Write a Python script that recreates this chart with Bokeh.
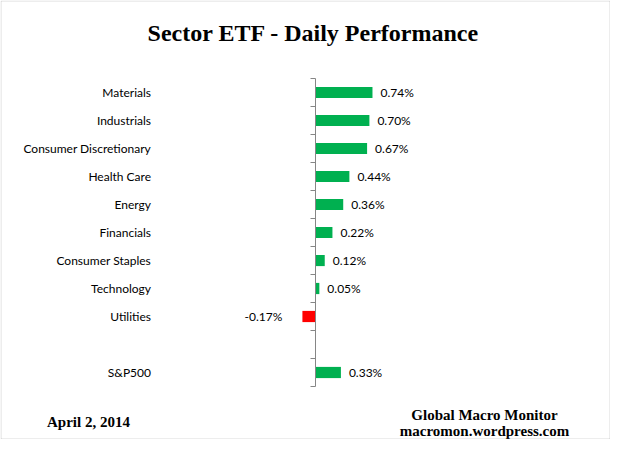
from bokeh.plotting import figure
from bokeh.models import Range1d, Label, BoxAnnotation, ColumnDataSource
from bokeh.core.properties import value
from bokeh.embed import file_html
from bokeh.resources import INLINE

# ---- data ----
categories = ["Materials", "Industrials", "Consumer Discretionary", "Health Care",
              "Energy", "Financials", "Consumer Staples", "Technology", "Utilities",
              "", "S&P500"]
bar_categories = ["Materials", "Industrials", "Consumer Discretionary", "Health Care",
                  "Energy", "Financials", "Consumer Staples", "Technology", "Utilities",
                  "S&P500"]
bar_values = [0.74, 0.70, 0.67, 0.44, 0.36, 0.22, 0.12, 0.05, -0.17, 0.33]
title_text = "Sector ETF - Daily Performance"
date_text = "April 2, 2014"
credit_lines = ["Global Macro Monitor", "macromon.wordpress.com"]

GREEN = "#00B050"
RED = "#FF0000"
GRAY = "#868686"

W, H = 610, 439
ZERO_X = 315.0      # pixel of value 0
PX_PER = 77.0       # pixels per 1 %
ROW0_Y = 92.0       # pixel centre of first row
ROW_H = 28.0        # pixels per row


def sx(px):
    return (px - ZERO_X) / PX_PER


def sy(py):
    return (py - ROW0_Y) / ROW_H


p = figure(width=W, height=H, min_border=0,
           x_range=Range1d(sx(0), sx(W)),
           y_range=Range1d(sy(H), sy(0)),
           output_backend="svg", toolbar_location=None, tools="")
p.outline_line_color = None
p.background_fill_color = "white"
p.border_fill_color = "white"
p.grid.visible = False
p.axis.visible = False

row_of = {c: i for i, c in enumerate(categories)}

# category labels
lsrc = ColumnDataSource(dict(y=[row_of[c] for c in bar_categories], t=bar_categories))
p.text(x=sx(150.5), y="y", text="t", source=lsrc, text_align="right", text_baseline="middle",
       text_font=value("Lato"), text_font_size="12px", text_color="#000000")

# bars
colors = [GREEN if v >= 0 else RED for v in bar_values]
src = ColumnDataSource(dict(y=[row_of[c] for c in bar_categories], v=bar_values, c=colors))
p.hbar(y="y", left=0, right="v", height=0.4, fill_color="c", line_color=None, source=src)

# value labels
pos = [i for i, v in enumerate(bar_values) if v >= 0]
neg = [i for i, v in enumerate(bar_values) if v < 0]
psrc = ColumnDataSource(dict(y=[row_of[bar_categories[i]] for i in pos],
                             v=[bar_values[i] for i in pos],
                             lab=[f"{bar_values[i]:.2f}%" for i in pos]))
nsrc = ColumnDataSource(dict(y=[row_of[bar_categories[i]] for i in neg],
                             v=[bar_values[i] for i in neg],
                             lab=[f"{bar_values[i]:.2f}%" for i in neg]))
p.text(x="v", y="y", text="lab", source=psrc, x_offset=8, text_align="left",
       text_baseline="middle", text_font=value("Lato"), text_font_size="12px",
       text_color="#000000")
p.text(x="v", y="y", text="lab", source=nsrc, x_offset=-20, text_align="right",
       text_baseline="middle", text_font=value("Lato"), text_font_size="12px",
       text_color="#000000")

# axis line at zero and ticks between categories
n = len(categories)
p.segment(x0=0, x1=0, y0=-0.5, y1=n - 0.5, line_color=GRAY, line_width=1)
bounds = [i - 0.5 for i in range(n + 1)]
p.segment(x0=sx(310), x1=0, y0=bounds, y1=bounds, line_color=GRAY, line_width=1)

# title & footer
font = "Liberation Serif"
p.add_layout(Label(x=sx(313), y=sy(32.5), text=title_text, text_align="center",
                   text_baseline="alphabetic", text_font=font, text_font_style="bold",
                   text_font_size="24px", text_color="#000000"))
p.add_layout(Label(x=sx(46.5), y=sy(421), text=date_text, text_align="left",
                   text_baseline="alphabetic", text_font=font, text_font_style="bold",
                   text_font_size="15px", text_color="#000000"))
for i, line in enumerate(credit_lines):
    p.add_layout(Label(x=sx(484), y=sy(414 + 16 * i), text=line, text_align="center",
                       text_baseline="alphabetic", text_font=font, text_font_style="bold",
                       text_font_size="15px", text_color="#000000"))

# chart border
p.add_layout(BoxAnnotation(left=sx(0.5), right=sx(W - 0.5), top=sy(0.5), bottom=sy(H - 0.5),
                           fill_color=None, line_color=GRAY, line_width=1))

open("out.html", "w").write(file_html(p, INLINE))
